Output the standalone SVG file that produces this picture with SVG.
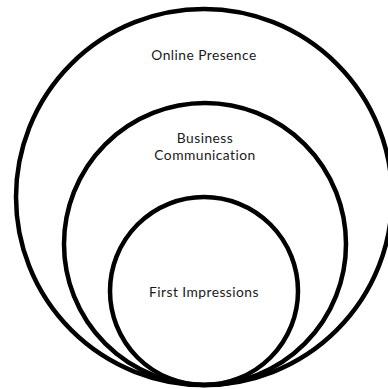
<svg xmlns="http://www.w3.org/2000/svg" width="388" height="389" viewBox="0 0 388 389">
<style>
.ring{fill:none;stroke:#000;stroke-width:4.5}
.lbl{font-family:Lato,"Open Sans","Liberation Sans",sans-serif;font-size:13.8px;letter-spacing:0.45px;fill:#1a1a1a;text-anchor:middle}
</style>
<rect width="388" height="389" fill="#fff"/>
<g id="online-presence">
<circle class="ring" cx="204" cy="197" r="188"/>
<text class="lbl" x="204" y="60">Online Presence</text>
</g>
<g id="business-communication">
<circle class="ring" cx="205" cy="244" r="141"/>
<text class="lbl" x="205" y="143">Business</text>
<text class="lbl" x="205" y="159.5">Communication</text>
</g>
<g id="first-impressions">
<circle class="ring" cx="204" cy="291" r="94"/>
<text class="lbl" x="204" y="297">First Impressions</text>
</g>
<g id="connectors"/>
</svg>
